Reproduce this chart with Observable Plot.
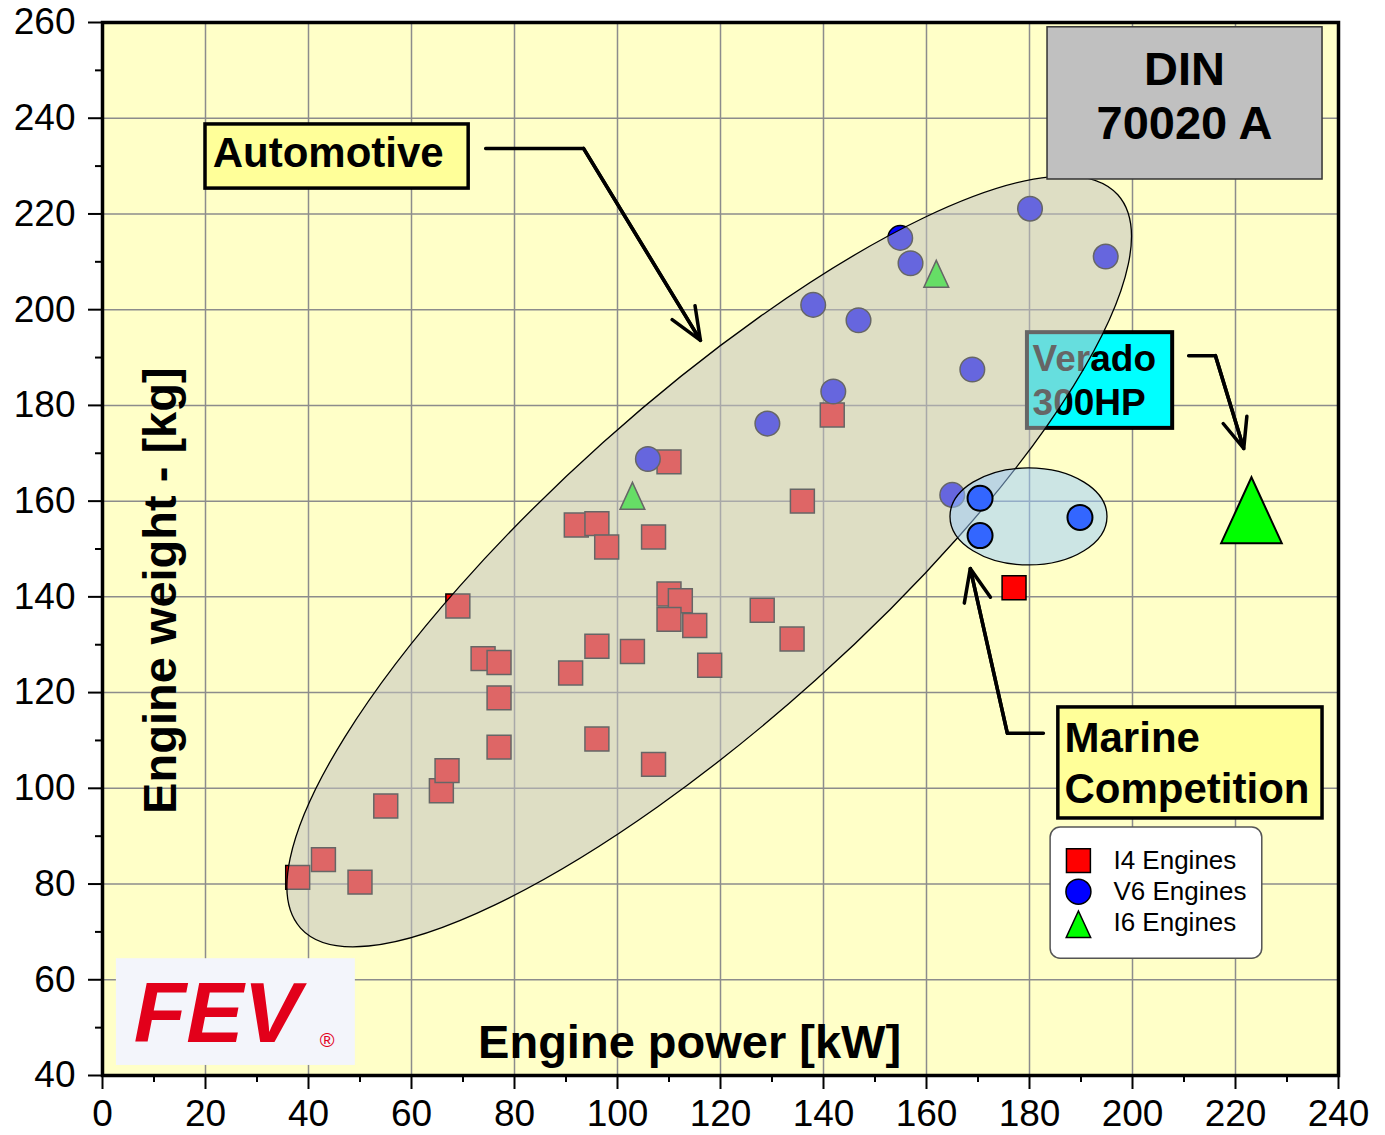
<!DOCTYPE html>
<html>
<head>
<meta charset="utf-8">
<script src="https://cdn.jsdelivr.net/npm/d3@7"></script>
<script src="https://cdn.jsdelivr.net/npm/@observablehq/plot@0.6"></script>
<style>
  html, body { margin: 0; padding: 0; background: #ffffff; }
  body { width: 1385px; height: 1135px; overflow: hidden; }
</style>
</head>
<body>
<div id="chart"></div>
<script>
// ---------------- data ----------------
const xTicks = [0, 20, 40, 60, 80, 100, 120, 140, 160, 180, 200, 220, 240];
const yTicks = [40, 60, 80, 100, 120, 140, 160, 180, 200, 220, 240, 260];
const xMinorTicks = [10, 30, 50, 70, 90, 110, 130, 150, 170, 190, 210, 230];
const yMinorTicks = [50, 70, 90, 110, 130, 150, 170, 190, 210, 230, 250];

// I4 engines (automotive + one outside)
const i4Power  = [37.9, 42.9, 50.0, 55.0, 65.8, 66.9, 69.0, 73.9, 77.0, 77.0, 77.0, 90.9, 96.0, 96.0, 102.9, 107.0, 92.0, 96.0, 97.9, 107.0, 110.0, 110.0, 112.2, 110.0, 115.0, 117.9, 128.1, 133.9, 135.9, 141.7, 177.0];
const i4Weight = [81.4, 85.1, 80.4, 96.3, 99.5, 103.7, 138.1, 127.1, 126.3, 118.9, 108.6, 124.1, 129.7, 110.3, 128.6, 105.0, 155.0, 155.3, 150.4, 152.5, 168.2, 140.6, 139.2, 135.3, 134.0, 125.7, 137.2, 131.2, 160.0, 178.0, 141.9];
// V6 engines (automotive)
const v6Power  = [105.9, 129.1, 141.9, 138.0, 146.8, 154.9, 156.9, 180.1, 194.8, 168.9, 165.0];
const v6Weight = [168.8, 176.2, 182.9, 201.0, 197.8, 215.0, 209.7, 221.1, 211.1, 187.5, 161.3];
// I6 engines (automotive)
const i6Power  = [102.9, 161.9];
const i6Weight = [161.1, 207.5];
// Marine competition V6 engines
const marinePower  = [170.4, 170.4, 189.8];
const marineWeight = [160.6, 152.8, 156.6];
// Verado 300HP (I6)
const veradoPower  = [223.1];
const veradoWeight = [158.1];

const legendLabels = ["I4 Engines", "V6 Engines", "I6 Engines"];

// ---------------- helpers ----------------
const zip = (xs, ys) => xs.map((x, i) => ({x, y: ys[i]}));
const FONT = "Liberation Sans, Arial, Helvetica, sans-serif";
const xDomain = [0, 240], yDomain = [40, 260];

const tallTriangle = {
  draw(context, size) {
    const h = Math.sqrt(size);
    const w = h * 0.92 / 2;
    context.moveTo(0, -h / 2);
    context.lineTo(w, h / 2);
    context.lineTo(-w, h / 2);
    context.closePath();
  }
};

function ellipseMark(spec) {
  return (index, scales, values, dimensions) => {
    const {width, height, marginLeft, marginRight, marginTop, marginBottom} = dimensions;
    const sx = (scales && typeof scales.x === "function") ? scales.x
      : v => marginLeft + (v - xDomain[0]) / (xDomain[1] - xDomain[0]) * (width - marginLeft - marginRight);
    const sy = (scales && typeof scales.y === "function") ? scales.y
      : v => height - marginBottom - (v - yDomain[0]) / (yDomain[1] - yDomain[0]) * (height - marginTop - marginBottom);
    const cx = sx(spec.cx), cy = sy(spec.cy);
    const e = d3.create("svg:ellipse")
      .attr("cx", cx).attr("cy", cy)
      .attr("rx", spec.rx).attr("ry", spec.ry)
      .attr("transform", `rotate(${-spec.angle} ${cx} ${cy})`)
      .attr("fill", spec.fill)
      .attr("fill-opacity", spec.fillOpacity)
      .attr("stroke", spec.stroke)
      .attr("stroke-width", spec.strokeWidth);
    return e.node();
  };
}

const boxText = (label, x, y, opts) => Plot.text([label], {
  x, y, text: d => d, fontFamily: FONT, fontWeight: "bold", fill: "black", ...opts
});

// ---------------- plot ----------------
const plot = Plot.plot({
  width: 1385,
  height: 1135,
  marginLeft: 102,
  marginRight: 47,
  marginTop: 22,
  marginBottom: 60,
  style: {background: "#ffffff", fontFamily: FONT, color: "black"},
  x: {domain: xDomain},
  y: {domain: yDomain},
  marks: [
    Plot.frame({fill: "#ffffc8"}),
    Plot.gridX(xTicks, {stroke: "#8c8c8c", strokeOpacity: 1, strokeWidth: 1.5}),
    Plot.gridY(yTicks, {stroke: "#8c8c8c", strokeOpacity: 1, strokeWidth: 1.5}),
    Plot.axisX(xTicks, {tickSize: 14, tickPadding: 10, fontSize: 37, strokeWidth: 2, label: null}),
    Plot.axisX(xMinorTicks, {tickSize: 7, tickFormat: () => "", strokeWidth: 2, label: null}),
    Plot.axisY(yTicks, {tickSize: 14, tickPadding: 13, fontSize: 37, strokeWidth: 2, label: null}),
    Plot.axisY(yMinorTicks, {tickSize: 7, tickFormat: () => "", strokeWidth: 2, label: null}),

    // automotive engines
    Plot.dot(zip(i4Power, i4Weight), {x: "x", y: "y", symbol: "square", r: 13.5, fill: "#ff0000", stroke: "black", strokeWidth: 1.5}),
    Plot.dot(zip(v6Power, v6Weight), {x: "x", y: "y", symbol: "circle", r: 12.3, fill: "#0000ff", stroke: "black", strokeWidth: 1.5}),
    Plot.dot(zip(i6Power, i6Weight), {x: "x", y: "y", symbol: tallTriangle, r: 15.2, fill: "#00ff00", stroke: "black", strokeWidth: 1.5}),

    // Verado label box (under the automotive ellipse)
    Plot.rect([0], {x1: 179.6, x2: 207.8, y1: 195.2, y2: 175.2, fill: "#00ffff", stroke: "black", strokeWidth: 4}),
    boxText("Verado\n300HP", 180.6, 185.6, {fontSize: 37, textAnchor: "start", lineHeight: 1.19}),

    // automotive ellipse
    ellipseMark({cx: 117.9, cy: 147.3, rx: 549, ry: 159.4, angle: 41.9, fill: "#c0c0c0", fillOpacity: 0.53, stroke: "black", strokeWidth: 1.3}),
    // marine ellipse
    ellipseMark({cx: 179.9, cy: 156.7, rx: 78.5, ry: 48.5, angle: 0, fill: "#99ccff", fillOpacity: 0.5, stroke: "black", strokeWidth: 1.3}),

    // marine competition & Verado
    Plot.dot(zip(marinePower, marineWeight), {x: "x", y: "y", symbol: "circle", r: 12.5, fill: "#3366ff", stroke: "black", strokeWidth: 2}),
    Plot.dot(zip(veradoPower, veradoWeight), {x: "x", y: "y", symbol: tallTriangle, r: 37.2, fill: "#00ff00", stroke: "black", strokeWidth: 2}),

    // Automotive label + arrow
    Plot.rect([0], {x1: 20.0, x2: 71.1, y1: 238.7, y2: 225.3, fill: "#ffff99", stroke: "black", strokeWidth: 3.5}),
    boxText("Automotive", 21.4, 232.6, {fontSize: 42, textAnchor: "start"}),
    Plot.line([{x: 74.4, y: 233.7}, {x: 93.4, y: 233.7}, {x: 116.1, y: 193.6}], {x: "x", y: "y", stroke: "black", strokeWidth: 3.5}),
    Plot.arrow([0], {x1: 93.4, y1: 233.7, x2: 116.1, y2: 193.6, stroke: "black", strokeWidth: 3.5, headLength: 15, headAngle: 45}),

    // DIN box
    Plot.rect([0], {x1: 183.5, x2: 236.9, y1: 259.0, y2: 227.2, fill: "#c0c0c0", stroke: "#333333", strokeWidth: 1.5}),
    boxText("DIN\n70020 A", 210.1, 245.0, {fontSize: 47, textAnchor: "middle", lineHeight: 1.15}),

    // Verado arrow
    Plot.line([{x: 210.9, y: 190.4}, {x: 216.1, y: 190.4}, {x: 221.6, y: 171.0}], {x: "x", y: "y", stroke: "black", strokeWidth: 3.5}),
    Plot.arrow([0], {x1: 216.1, y1: 190.4, x2: 221.6, y2: 171.0, stroke: "black", strokeWidth: 3.5, headLength: 15, headAngle: 45}),

    // Marine competition label + arrow
    Plot.rect([0], {x1: 185.6, x2: 236.9, y1: 116.9, y2: 93.7, fill: "#ffff99", stroke: "black", strokeWidth: 3.5}),
    boxText("Marine\nCompetition", 186.8, 105.6, {fontSize: 42, textAnchor: "start", lineHeight: 1.2}),
    Plot.line([{x: 182.7, y: 111.5}, {x: 175.7, y: 111.5}, {x: 168.5, y: 145.9}], {x: "x", y: "y", stroke: "black", strokeWidth: 3.5}),
    Plot.arrow([0], {x1: 175.7, y1: 111.5, x2: 168.5, y2: 145.9, stroke: "black", strokeWidth: 3.5, headLength: 15, headAngle: 45}),

    // legend
    Plot.rect([0], {x1: 184.1, x2: 225.2, y1: 91.8, y2: 64.4, fill: "#ffffff", stroke: "#555555", strokeWidth: 1.5, rx: 10}),
    Plot.dot([{x: 189.5, y: 84.9}], {x: "x", y: "y", symbol: "square", r: 13.5, fill: "#ff0000", stroke: "black", strokeWidth: 1.5}),
    Plot.dot([{x: 189.5, y: 78.4}], {x: "x", y: "y", symbol: "circle", r: 12.5, fill: "#0000ff", stroke: "black", strokeWidth: 1.5}),
    Plot.dot([{x: 189.5, y: 71.6}], {x: "x", y: "y", symbol: tallTriangle, r: 15.0, fill: "#00ff00", stroke: "black", strokeWidth: 1.5}),
    Plot.text(legendLabels, {x: 196.3, y: (d, i) => [84.9, 78.4, 72.0][i], text: d => d, fontSize: 26, textAnchor: "start", fill: "black", fontFamily: FONT}),

    // FEV logo
    Plot.rect([0], {x1: 2.7, x2: 49.1, y1: 64.4, y2: 42.1, fill: "#f3f5fb"}),
    Plot.text(["FEV"], {x: 22.3, y: 52.7, text: d => d, fontSize: 86, fontWeight: "bold", fontStyle: "italic", fill: "#e2001a", textAnchor: "middle", fontFamily: FONT, ariaLabel: "fev-logo"}),
    Plot.text(["®"], {x: 43.6, y: 47.3, text: d => d, fontSize: 20, fill: "#e2001a", textAnchor: "middle", fontFamily: FONT}),

    // axis titles (inside the plot)
    Plot.text(["Engine weight - [kg]"], {x: 11.3, y: 141.3, text: d => d, rotate: -90, fontSize: 47, fontWeight: "bold", fill: "black", textAnchor: "middle", fontFamily: FONT}),
    Plot.text(["Engine power [kW]"], {x: 114.0, y: 46.7, text: d => d, fontSize: 47, fontWeight: "bold", fill: "black", textAnchor: "middle", fontFamily: FONT}),

    Plot.frame({stroke: "black", strokeWidth: 3.5})
  ]
});

d3.select(plot).selectAll('[aria-label="fev-logo"] text').attr("letter-spacing", "8px");
document.getElementById("chart").appendChild(plot);
</script>
</body>
</html>
